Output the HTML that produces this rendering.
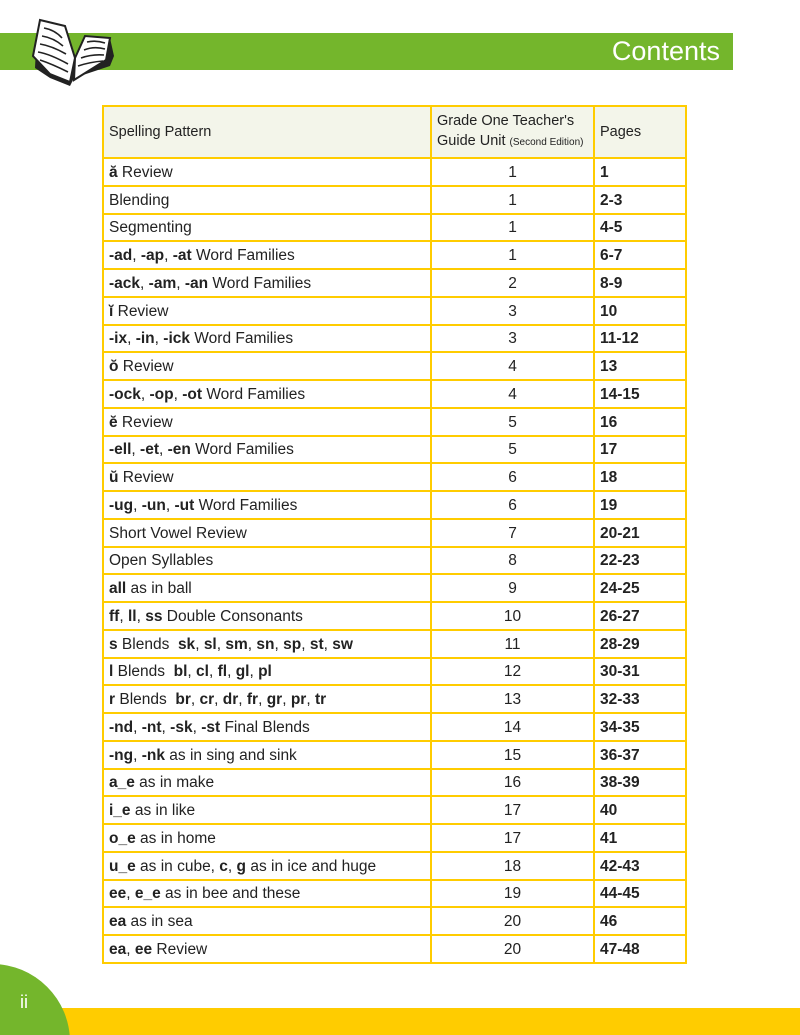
<!DOCTYPE html>
<html><head><meta charset="utf-8"><style>
html,body{margin:0;width:800px;height:1035px;overflow:hidden}
body{position:relative;background:#fff;font-family:"Liberation Sans","DejaVu Sans",sans-serif}
.gbar{position:absolute;left:0;top:33px;width:733px;height:37px;background:#74b62c}
.title{position:absolute;right:80px;top:35px;color:#fff;font-size:27px;line-height:32px}
.ybar{position:absolute;left:0;top:1008px;width:800px;height:27px;background:#ffcc00}
.pn{position:absolute;left:20px;top:992px;color:#fff;font-size:18px}
table{position:absolute;left:102px;top:105px;width:583px;border-collapse:collapse;font-size:15.5px;color:#222;table-layout:fixed}
td{border:2px solid #ffcc00;padding:2px 0 0 5px;white-space:nowrap;box-sizing:border-box}
tr{height:27.76px}
tr.h{height:52px}
tr.h td{background:#f3f5ea;font-size:14.5px;line-height:20px;padding-top:0}
td.c{text-align:center;padding-left:0}
td.p{font-weight:bold}
small{font-size:10px}
</style></head><body>
<div class="gbar"></div>
<div class="title">Contents</div>
<svg style="position:absolute;left:30px;top:8px" width="90" height="84" viewBox="0 0 90 84">
<path d="M5 60 L20 70 L40 78 L44 70 L80 58 L84 48 L80 30 L55 28 L45 52 L35 20 L10 12 L6 40 Z" fill="#222"/>
<path d="M3 48 L10 12 L35 18 L45 50 L40 74 L20 66 Z" fill="#fff" stroke="#222" stroke-width="2"/>
<path d="M45 50 L55 28 L80 30 L76 52 L44 72 Z" fill="#fff" stroke="#222" stroke-width="2"/>
<g stroke="#222" stroke-width="1.6" fill="none">
<path d="M14 20 Q25 22 32 30"/><path d="M12 28 Q24 30 33 38"/><path d="M10 36 Q22 38 36 46"/><path d="M8 44 Q20 46 38 56"/><path d="M10 52 Q22 56 38 64"/>
<path d="M57 34 Q66 32 75 35"/><path d="M54 42 Q64 38 75 41"/><path d="M51 50 Q62 46 74 47"/><path d="M48 58 Q60 54 73 53"/>
</g></svg>
<table>
<colgroup><col style="width:328px"><col style="width:163px"><col style="width:92px"></colgroup>
<tr class="h"><td>Spelling Pattern</td><td>Grade One Teacher's<br>Guide Unit <small>(Second Edition)</small></td><td>Pages</td></tr>
<tr><td><b>ă</b> Review</td><td class="c">1</td><td class="p">1</td></tr>
<tr><td>Blending</td><td class="c">1</td><td class="p">2-3</td></tr>
<tr><td>Segmenting</td><td class="c">1</td><td class="p">4-5</td></tr>
<tr><td><b>-ad</b>, <b>-ap</b>, <b>-at</b> Word Families</td><td class="c">1</td><td class="p">6-7</td></tr>
<tr><td><b>-ack</b>, <b>-am</b>, <b>-an</b> Word Families</td><td class="c">2</td><td class="p">8-9</td></tr>
<tr><td><b>ĭ</b> Review</td><td class="c">3</td><td class="p">10</td></tr>
<tr><td><b>-ix</b>, <b>-in</b>, <b>-ick</b> Word Families</td><td class="c">3</td><td class="p">11-12</td></tr>
<tr><td><b>ŏ</b> Review</td><td class="c">4</td><td class="p">13</td></tr>
<tr><td><b>-ock</b>, <b>-op</b>, <b>-ot</b> Word Families</td><td class="c">4</td><td class="p">14-15</td></tr>
<tr><td><b>ĕ</b> Review</td><td class="c">5</td><td class="p">16</td></tr>
<tr><td><b>-ell</b>, <b>-et</b>, <b>-en</b> Word Families</td><td class="c">5</td><td class="p">17</td></tr>
<tr><td><b>ŭ</b> Review</td><td class="c">6</td><td class="p">18</td></tr>
<tr><td><b>-ug</b>, <b>-un</b>, <b>-ut</b> Word Families</td><td class="c">6</td><td class="p">19</td></tr>
<tr><td>Short Vowel Review</td><td class="c">7</td><td class="p">20-21</td></tr>
<tr><td>Open Syllables</td><td class="c">8</td><td class="p">22-23</td></tr>
<tr><td><b>all</b> as in ball</td><td class="c">9</td><td class="p">24-25</td></tr>
<tr><td><b>ff</b>, <b>ll</b>, <b>ss</b> Double Consonants</td><td class="c">10</td><td class="p">26-27</td></tr>
<tr><td><b>s</b> Blends&nbsp; <b>sk</b>, <b>sl</b>, <b>sm</b>, <b>sn</b>, <b>sp</b>, <b>st</b>, <b>sw</b></td><td class="c">11</td><td class="p">28-29</td></tr>
<tr><td><b>l</b> Blends&nbsp; <b>bl</b>, <b>cl</b>, <b>fl</b>, <b>gl</b>, <b>pl</b></td><td class="c">12</td><td class="p">30-31</td></tr>
<tr><td><b>r</b> Blends&nbsp; <b>br</b>, <b>cr</b>, <b>dr</b>, <b>fr</b>, <b>gr</b>, <b>pr</b>, <b>tr</b></td><td class="c">13</td><td class="p">32-33</td></tr>
<tr><td><b>-nd</b>, <b>-nt</b>, <b>-sk</b>, <b>-st</b> Final Blends</td><td class="c">14</td><td class="p">34-35</td></tr>
<tr><td><b>-ng</b>, <b>-nk</b> as in sing and sink</td><td class="c">15</td><td class="p">36-37</td></tr>
<tr><td><b>a_e</b> as in make</td><td class="c">16</td><td class="p">38-39</td></tr>
<tr><td><b>i_e</b> as in like</td><td class="c">17</td><td class="p">40</td></tr>
<tr><td><b>o_e</b> as in home</td><td class="c">17</td><td class="p">41</td></tr>
<tr><td><b>u_e</b> as in cube, <b>c</b>, <b>g</b> as in ice and huge</td><td class="c">18</td><td class="p">42-43</td></tr>
<tr><td><b>ee</b>, <b>e_e</b> as in bee and these</td><td class="c">19</td><td class="p">44-45</td></tr>
<tr><td><b>ea</b> as in sea</td><td class="c">20</td><td class="p">46</td></tr>
<tr><td><b>ea</b>, <b>ee</b> Review</td><td class="c">20</td><td class="p">47-48</td></tr>
</table>
<div class="ybar"></div>
<svg style="position:absolute;left:0;top:960px" width="80" height="75" viewBox="0 0 80 75"><circle cx="-8" cy="82" r="78" fill="#74b62c"/></svg>
<div class="pn">ii</div>
</body></html>
